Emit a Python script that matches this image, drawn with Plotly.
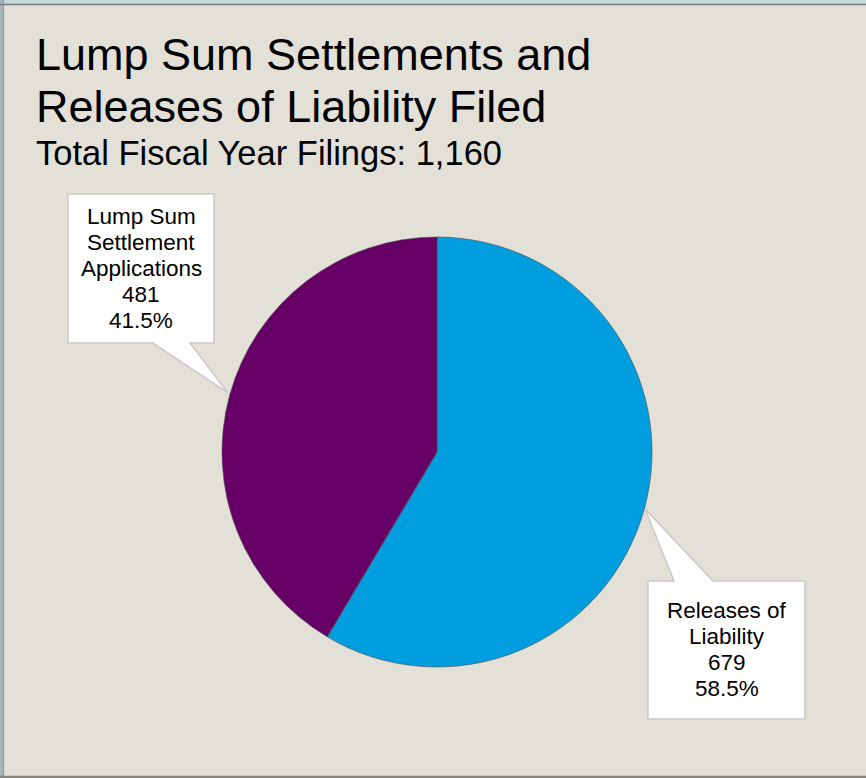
import plotly.graph_objects as go

# ---- data ----
labels = ["Releases of Liability", "Lump Sum Settlement Applications"]
label_lines = [["Releases of", "Liability"], ["Lump Sum", "Settlement", "Applications"]]
values = [679, 481]
colors = ["#009DDF", "#660066"]
title_lines = ["Lump Sum Settlements and", "Releases of Liability Filed"]
subtitle_prefix = "Total Fiscal Year Filings: "

W, H = 866, 778
FONT = "Arial, 'Liberation Sans', sans-serif"
total = sum(values)


def px(x):
    return x / W


def py(y):
    return 1 - y / H


fig = go.Figure()
fig.add_trace(go.Pie(
    labels=labels, values=values, sort=False, direction="clockwise", rotation=0,
    marker=dict(colors=colors, line=dict(color="#4a4a4a", width=0.6)),
    textinfo="none", hoverinfo="label+value+percent", showlegend=False,
    domain=dict(x=[px(222), px(652)], y=[py(667), py(237)]),
))

shapes = []
# window frame bits
shapes.append(dict(type="rect", xref="paper", yref="paper", x0=0, x1=1, y0=py(4), y1=1,
                   fillcolor="#C6D8DC", line=dict(width=0), layer="above"))
shapes.append(dict(type="rect", xref="paper", yref="paper", x0=0, x1=px(3), y0=0, y1=1,
                   fillcolor="#A7B6BC", line=dict(width=0), layer="above"))
shapes.append(dict(type="line", xref="paper", yref="paper", x0=0, x1=1, y0=py(4.5), y1=py(4.5),
                   line=dict(color="#7C7C7C", width=1.5), layer="above"))
shapes.append(dict(type="line", xref="paper", yref="paper", x0=px(3.5), x1=px(3.5), y0=0, y1=1,
                   line=dict(color="#8E9A9E", width=1.2), layer="above"))
shapes.append(dict(type="line", xref="paper", yref="paper", x0=0, x1=1, y0=py(777), y1=py(777),
                   line=dict(color="#85857E", width=2.5), layer="above"))


def poly(points):
    return "M " + " L ".join(f"{px(x):.5f},{py(y):.5f}" for x, y in points) + " Z"


# callout 1 (Lump Sum) and callout 2 (Releases)
c1 = [(68, 194), (214, 194), (214, 343), (190, 343), (228, 393), (153, 343), (68, 343)]
c2 = [(648, 581), (674, 581), (645, 509), (713, 581), (805, 581), (805, 719), (648, 719)]
for c in (c1, c2):
    shapes.append(dict(type="path", xref="paper", yref="paper", path=poly(c),
                       fillcolor="white", line=dict(color="#C9C9C6", width=1.5), layer="above"))

annotations = []
# titles
for t, yc, fs in [(title_lines[0], 55, 45), (title_lines[1], 107, 45),
                  (subtitle_prefix + f"{total:,}", 153, 34.5)]:
    annotations.append(dict(text=t, xref="paper", yref="paper", x=px(34), y=py(yc),
                            xanchor="left", yanchor="middle", showarrow=False,
                            font=dict(family=FONT, size=fs, color="black")))

# callout texts
centers_x = [726.5, 141]
first_center_y = [610.3, 216.3]
for i in range(len(values)):
    pct = values[i] / total * 100
    lines = label_lines[i] + [f"{values[i]}", f"{pct:.1f}%"]
    for j, ln in enumerate(lines):
        annotations.append(dict(text=ln, xref="paper", yref="paper",
                                x=px(centers_x[i]), y=py(first_center_y[i] + 26 * j),
                                xanchor="center", yanchor="middle", showarrow=False,
                                font=dict(family=FONT, size=22.5, color="black")))

fig.update_layout(
    width=W, height=H, margin=dict(l=0, r=0, t=0, b=0),
    paper_bgcolor="#E3E0D8", plot_bgcolor="#E3E0D8",
    shapes=shapes, annotations=annotations,
)
fig.write_html("out.html")
